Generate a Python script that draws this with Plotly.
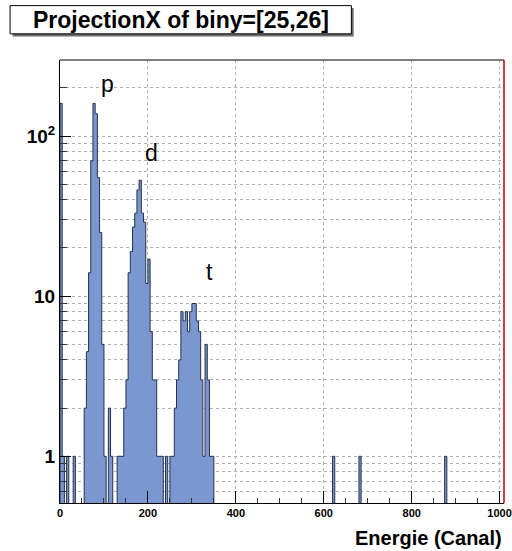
import plotly.graph_objects as go
import numpy as np

# ---------------- data ----------------
bin_width = 5
x_min, x_max = 0, 1010
# left edges of non-empty bins and their contents
bin_left = [0, 5, 15, 30, 55, 60, 65, 70, 75, 80, 85, 90, 95, 100, 110, 115, 130,
            135, 140, 145, 150, 155, 160, 165, 170, 175, 180, 185, 190, 195, 200,
            205, 210, 215, 220, 225, 230, 240, 250, 255, 260, 265, 270, 275, 280,
            285, 290, 295, 300, 305, 310, 315, 320, 325, 330, 335, 340, 345,
            620, 680, 875]
counts = [160, 1, 1, 1, 2, 4.5, 14, 70, 160, 138, 55, 25, 5, 1, 2, 1, 1,
          1, 1, 2, 3, 14, 19, 27, 33, 46, 53, 33, 29, 12, 17,
          6, 3, 3, 1, 1, 1, 1, 1, 1, 2, 3, 4, 8, 7,
          8, 6, 8, 9, 9, 7, 6, 3, 1, 5, 3, 1, 1,
          1, 1, 1]
peak_labels = ["p", "d", "t"]
peak_label_x = [108, 207, 340]
peak_label_y = [210, 78, 14.2]
x_tickvals = [0, 200, 400, 600, 800, 1000]
y_tickvals = [1, 10, 100]
y_ticktext = ["1", "10", "10<sup>2</sup>"]
title_text = "ProjectionX of biny=[25,26]"
x_title = "Energie (Canal)"

# ---------------- build full histogram ----------------
nbins = int(round((x_max - x_min) / bin_width))
edges = x_min + bin_width * np.arange(nbins + 1)
h = np.zeros(nbins)
for lo, c in zip(bin_left, counts):
    h[int(round((lo - x_min) / bin_width))] = c

floor = 1e-3
hv = np.where(h > 0, h, floor)
xs = [edges[0]]
ys = [floor]
for i in range(nbins):
    xs += [edges[i], edges[i + 1]]
    ys += [hv[i], hv[i]]
xs.append(edges[-1])
ys.append(floor)

W, H = 512, 551
L, R, T, B = 60, 504.5, 59.5, 503.5   # plot-area pixel box
pw, ph = R - L, B - T


def px(xp):
    return (xp - L) / pw


def py(yp):
    return (B - yp) / ph


fig = go.Figure()
fig.add_trace(go.Scatter(
    x=xs, y=ys, mode="lines", fill="toself",
    fillcolor="#7b97cf",
    line=dict(color="#25324f", width=1),
    hoverinfo="skip", showlegend=False))

font_family = "Liberation Sans, Arial, Helvetica, sans-serif"
grid_col = "#b0b0b0"

fig.update_layout(
    width=W, height=H,
    margin=dict(l=L, r=W - R, t=T, b=H - B, autoexpand=False),
    paper_bgcolor="white", plot_bgcolor="white",
    font=dict(family=font_family, color="black"),
    showlegend=False,
)

fig.update_xaxes(
    range=[x_min, x_max],
    tickvals=x_tickvals,
    ticktext=[f"<b>{v}</b>" for v in x_tickvals],
    tickfont=dict(size=11, family=font_family),
    ticks="inside", ticklen=12, tickcolor="black", tickwidth=1,
    minor=dict(dtick=50, ticks="inside", ticklen=5, tickcolor="#333",
               showgrid=False),
    showgrid=True, gridcolor=grid_col, griddash="dot", gridwidth=1,
    showline=True, linecolor="black", linewidth=1, mirror=False,
    zeroline=False,
)

fig.update_yaxes(
    type="log",
    range=[np.log10(0.511), np.log10(298.5)],
    tickvals=y_tickvals,
    ticktext=[f"<b>{t}</b>" for t in y_ticktext],
    tickfont=dict(size=19, family=font_family),
    ticks="inside", ticklen=11, tickcolor="black", tickwidth=1,
    minor=dict(dtick="D1", ticks="inside", ticklen=7, tickcolor="#333",
               showgrid=True, gridcolor=grid_col, griddash="dot", gridwidth=1),
    showgrid=True, gridcolor=grid_col, griddash="dot", gridwidth=1,
    showline=True, linecolor="black", linewidth=1, mirror=False,
    zeroline=False,
)

# frame: top black, right red
fig.add_shape(type="line", xref="paper", yref="paper", x0=0, x1=1, y0=1, y1=1,
              line=dict(color="black", width=1))
fig.add_shape(type="line", xref="paper", yref="paper", x0=1, x1=1, y0=0, y1=1,
              line=dict(color="#c00000", width=1.5))

# peak labels
for t, xv, yv in zip(peak_labels, peak_label_x, peak_label_y):
    fig.add_annotation(x=xv, y=np.log10(yv), xref="x", yref="y", text=t,
                       showarrow=False, font=dict(size=23, family=font_family),
                       xanchor="center", yanchor="middle")

# title pave with shadow
fig.add_shape(type="rect", xref="paper", yref="paper",
              x0=px(12.5), x1=px(354), y0=py(7.5), y1=py(36),
              line=dict(width=0), fillcolor="#6e6e6e", layer="above")
fig.add_shape(type="rect", xref="paper", yref="paper",
              x0=px(10), x1=px(351.7), y0=py(5), y1=py(33.3),
              line=dict(color="black", width=1), fillcolor="white", layer="above")
fig.add_annotation(x=px(181), y=py(19.5), xref="paper", yref="paper",
                   text=f"<b>{title_text}</b>", showarrow=False,
                   font=dict(size=23, family=font_family),
                   xanchor="center", yanchor="middle")

# x axis title
fig.add_annotation(x=px(504), y=py(538.5), xref="paper", yref="paper",
                   text=f"<b>{x_title}</b>", showarrow=False,
                   font=dict(size=20, family=font_family),
                   xanchor="right", yanchor="middle")

fig.write_html("out.html",
               config={"displayModeBar": False, "staticPlot": True},
               post_script="document.body.style.margin='0';"
                           "document.body.style.overflow='hidden';")
